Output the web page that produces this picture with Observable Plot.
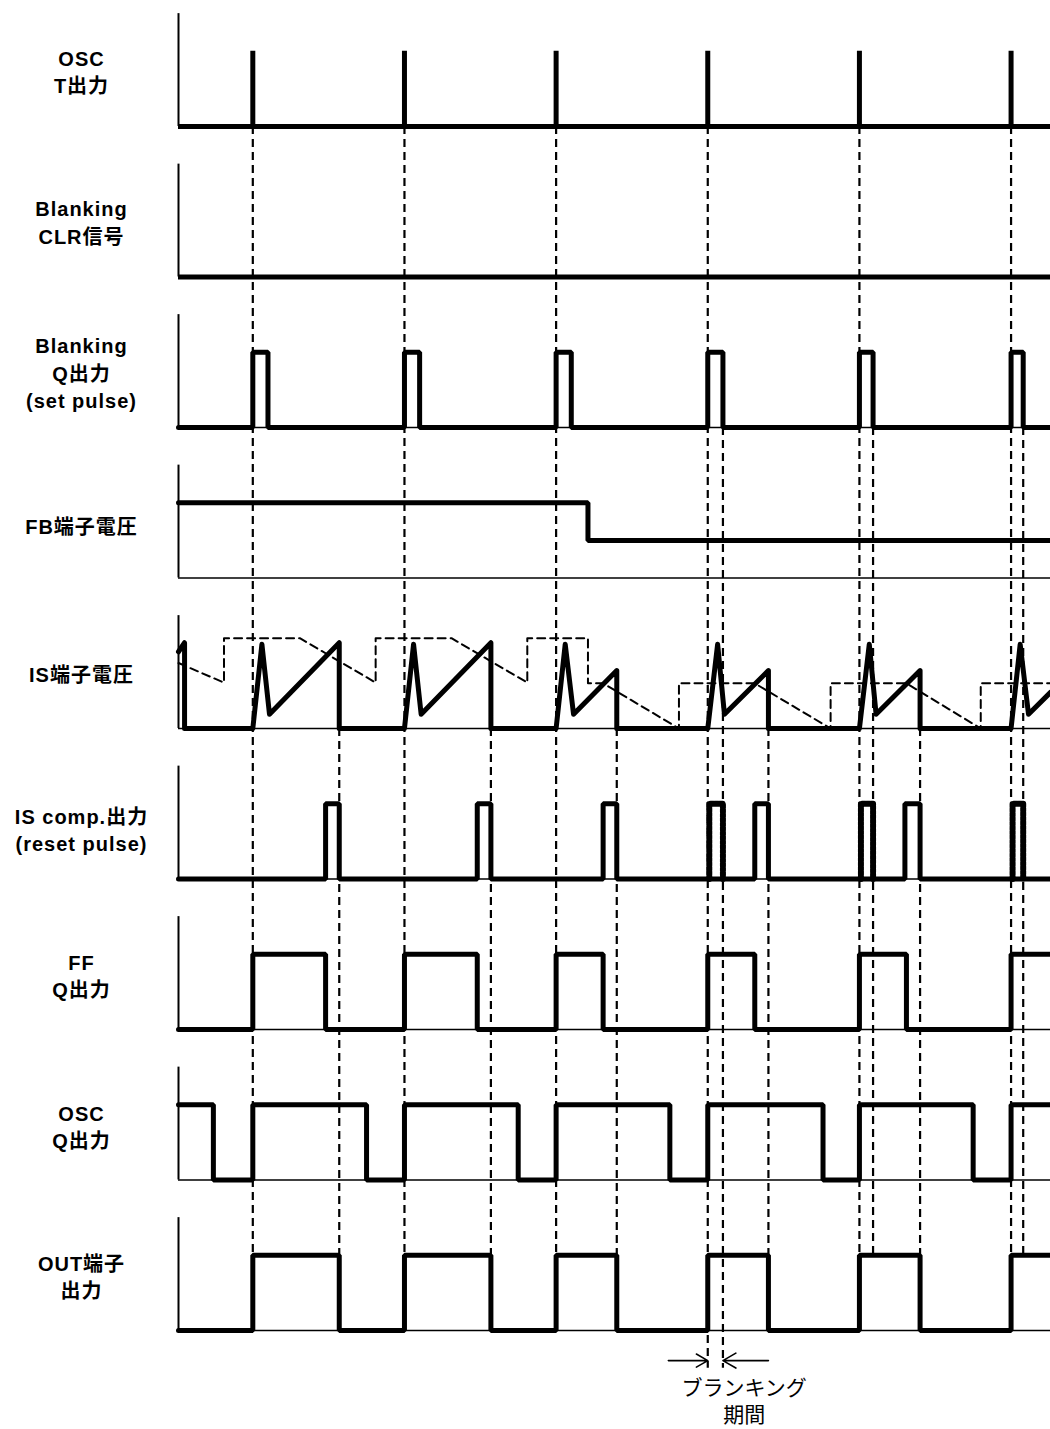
<!DOCTYPE html>
<html><head><meta charset="utf-8">
<script src="https://cdn.jsdelivr.net/npm/d3@7"></script>
<script src="https://cdn.jsdelivr.net/npm/@observablehq/plot@0.6"></script>
<style>
body{margin:0;background:#fff;}
#chart svg{display:block;}
</style></head><body><div id="chart"></div>
<script>
// ---- data (time in arbitrary units, one OSC period = 100) ----
const laneLabels = ["OSC\nT出力", "Blanking\nCLR信号", "Blanking\nQ出力\n(set pulse)", "FB端子電圧", "IS端子電圧",
  "IS comp.出力\n(reset pulse)", "FF\nQ出力", "OSC\nQ出力", "OUT端子\n出力"];
const labelLevel = [0.74, 0.74, 0.74, 0.70, 0.73, 0.67, 0.73, 0.72, 0.73];
const tStart = 51, tEnd = 626;
const oscT = [100, 200, 300, 400, 500, 600];            // OSC T pulses
const blankFall = [110, 210, 310, 410, 509, 608];       // Blanking Q pulse end
const blankEndGuides = [410, 509, 608];                 // guide lines at blanking end
const fbHigh = 1.0, fbLow = 0.5, fbStep = 321;          // FB terminal voltage
const isSolidT = [51, 55, 55, 100, 106, 111, 157, 157, 200, 206, 211, 257, 257, 300, 306, 311.5, 340, 340,
  400, 406.5, 411, 440, 440, 500, 506.5, 511, 540, 540, 600, 606, 611.5, 626];
const isSolidV = [1.02, 1.14, 0, 0, 1.12, 0.19, 1.14, 0, 0, 1.12, 0.19, 1.14, 0, 0, 1.12, 0.19, 0.77, 0,
  0, 1.12, 0.19, 0.77, 0, 0, 1.12, 0.19, 0.77, 0, 0, 1.12, 0.19, 0.48];
const isDashT = [51, 81, 81, 131, 181, 181, 231, 281, 281, 321, 321, 331, 381, 381, 431, 481, 481, 531, 580, 580, 626];
const isDashV = [0.87, 0.61, 1.20, 1.20, 0.61, 1.20, 1.20, 0.61, 1.20, 1.20, 0.60, 0.60, 0, 0.60, 0.60, 0, 0.60, 0.60, 0, 0.60, 0.60];
const compRise = [148, 248, 331, 431, 530];              // IS comp reset pulses
const compFall = [157, 257, 340, 440, 540];
const compMaskedStart = [401, 501, 601];                 // masked comp output during blanking
const compMaskedEnd = [410, 509, 608];
const ffFall = [148, 248, 331, 431, 531];                // FF Q
const oscQFall = [74, 175, 275, 375, 476, 575];          // OSC Q (starts high)
const outFall = [157, 257, 340, 440, 540];               // OUT
const resetGuides = [157, 257, 340, 440, 540];
const blankPeriod = [400, 410];
const arrowTails = [374, 440];
const annotText = ["ブランキング", "期間"];
const annotT = 424;
const annotLevel = [-0.77, -1.13];

// ---- helpers ----
const Y = (lane, level) => level - 2 * lane;
function wave(id, lane, rises, falls, startHigh) {
  const ev = [...rises.map(t => [t, 1]), ...falls.map(t => [t, 0])].sort((a, b) => a[0] - b[0]);
  let lvl = startHigh ? 1 : 0;
  const pts = [{id, t: tStart, y: Y(lane, lvl)}];
  for (const [t, l] of ev) { pts.push({id, t, y: Y(lane, lvl)}); lvl = l; pts.push({id, t, y: Y(lane, lvl)}); }
  pts.push({id, t: tEnd, y: Y(lane, lvl)});
  return pts;
}

const solid = [
  ...wave("blankQ", 2, oscT, blankFall, false),
  ...[{t: tStart, v: fbHigh}, {t: fbStep, v: fbHigh}, {t: fbStep, v: fbLow}, {t: tEnd, v: fbLow}].map(d => ({id: "fb", t: d.t, y: Y(3, d.v)})),
  ...wave("comp", 5, compRise, compFall, false),
  ...wave("ff", 6, oscT, ffFall, false),
  ...wave("oscQ", 7, oscT, oscQFall, true),
  ...wave("out", 8, oscT, outFall, false)
];
const isSolid = isSolidT.map((t, i) => ({t, y: Y(4, isSolidV[i])}));
const masked = compMaskedStart.flatMap((a, i) => [
  {id: i, t: a, y: Y(5, 0)}, {id: i, t: a, y: Y(5, 1)}, {id: i, t: compMaskedEnd[i], y: Y(5, 1)}, {id: i, t: compMaskedEnd[i], y: Y(5, 0)}]);
const isDash = isDashT.map((t, i) => ({t, y: Y(4, isDashV[i])}));
const lanes = laneLabels.map((label, i) => ({i, label, base: Y(i, 0), top: Y(i, 1.5), ly: Y(i, labelLevel[i])}));

const guides = [
  ...oscT.map(t => ({t, y1: Y(0, 0), y2: t === blankPeriod[0] ? Y(8, -0.5) : Y(8, 1)})),
  ...blankEndGuides.map(t => ({t, y1: Y(2, 0), y2: t === blankPeriod[1] ? Y(8, -0.5) : Y(8, 1)})),
  ...resetGuides.map(t => ({t, y1: Y(4, 0), y2: Y(8, 1)}))
];
const arrows = [
  {x1: arrowTails[0], x2: blankPeriod[0], y: Y(8, -0.4)},
  {x1: arrowTails[1], x2: blankPeriod[1], y: Y(8, -0.4)}
];
const annots = annotText.map((s, i) => ({s, t: annotT, y: Y(8, annotLevel[i]), w: i === 0 ? "normal" : "bold"}));

const font = '"Liberation Sans", Arial, Helvetica, "Noto Sans CJK JP", sans-serif';
const chart = Plot.plot({
  width: 1050, height: 1429,
  marginLeft: 178, marginRight: 0, marginTop: 0, marginBottom: 0,
  x: {domain: [tStart, tEnd], axis: null},
  y: {domain: [-17.3156, 1.6744], axis: null},
  style: {fontFamily: font, background: "#fff"},
  marks: [
    // axes of each lane
    Plot.ruleY(lanes, {y: "base", x1: tStart, x2: tEnd, stroke: "black", strokeWidth: 1.6}),
    Plot.ruleX(lanes, {x: tStart, y1: "base", y2: "top", stroke: "black", strokeWidth: 2}),
    // dashed guides
    Plot.ruleX(guides, {x: "t", y1: "y1", y2: "y2", stroke: "black", strokeWidth: 2.2, strokeDasharray: "8,5"}),
    // IS threshold dashed line
    Plot.line(isDash, {x: "t", y: "y", stroke: "black", strokeWidth: 2, strokeDasharray: "8,5"}),
    // OSC T: low level line and spikes
    Plot.ruleY([Y(0, 0), Y(1, 0)], {y: d => d, x1: tStart, x2: tEnd, stroke: "black", strokeWidth: 5}),
    Plot.ruleX(oscT, {x: d => d, y1: Y(0, 0), y2: Y(0, 1), stroke: "black", strokeWidth: 5}),
    // waveforms
    Plot.line(solid, {x: "t", y: "y", z: "id", stroke: "black", strokeWidth: 5, strokeLinejoin: "miter"}),
    Plot.line(isSolid, {x: "t", y: "y", stroke: "black", strokeWidth: 5, strokeLinejoin: "round"}),
    Plot.line(masked, {x: "t", y: "y", z: "id", stroke: "black", strokeWidth: 6, strokeDasharray: "3,1.5"}),
    // labels
    Plot.text(lanes, {y: "ly", text: "label", frameAnchor: "left", dx: -97, textAnchor: "middle", lineAnchor: "middle",
      lineHeight: 1.38, fontSize: 20, fontWeight: "bold", fill: "black"}),
    // blanking period annotation
    Plot.arrow(arrows, {x1: "x1", x2: "x2", y1: "y", y2: "y", stroke: "black", strokeWidth: 1.6, headLength: 14, headAngle: 60}),
    Plot.text(annots, {x: "t", y: "y", text: "s", fontSize: 21, fontWeight: "w", fill: "black", lineAnchor: "middle"})
  ]
});
const textGroups = chart.querySelectorAll('g[aria-label="text"]');
if (textGroups.length) textGroups[0].style.letterSpacing = "1px";
document.getElementById("chart").append(chart);
</script></body></html>
